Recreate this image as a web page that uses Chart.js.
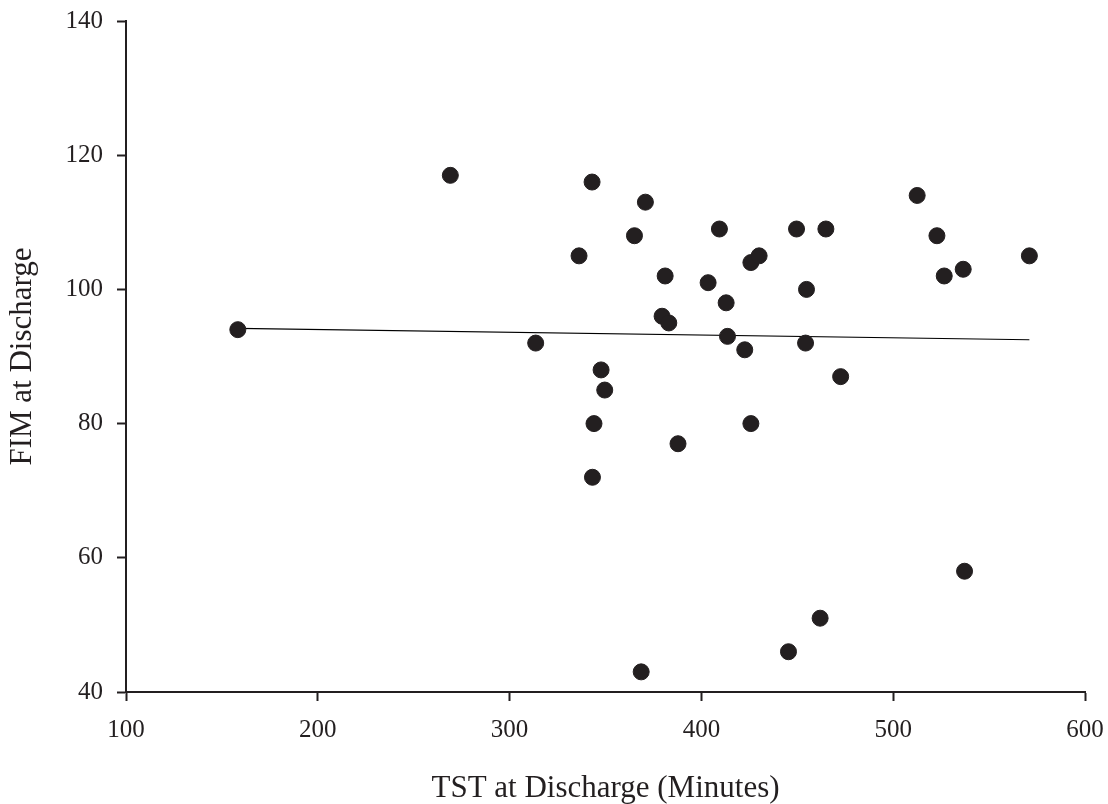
<!DOCTYPE html>
<html>
<head>
<meta charset="utf-8">
<title>FIM vs TST at Discharge</title>
<script src="https://cdn.jsdelivr.net/npm/chart.js@4/dist/chart.umd.min.js"></script>
<style>
  html, body { margin: 0; padding: 0; background: #fff; }
  #wrap { width: 1108px; height: 804px; }
</style>
</head>
<body>
<div id="wrap"><canvas id="scatter" width="1108" height="804"></canvas></div>
<script>
// TST at discharge (minutes) and FIM at discharge, one entry per patient
const tstMinutes = [158.3, 269.1, 313.6, 336.2, 343.0, 343.2, 344.0, 347.7, 349.6, 365.1,
  368.6, 370.8, 379.5, 381.1, 383.0, 387.8, 403.5, 409.4, 412.9, 413.6,
  422.6, 425.8, 425.8, 430.1, 445.4, 449.6, 454.3, 454.8, 461.9, 464.9,
  472.6, 512.5, 522.8, 526.6, 536.5, 537.2, 571.0];
const fimScores = [94, 117, 92, 105, 116, 72, 80, 88, 85, 108,
  43, 113, 96, 102, 95, 77, 101, 109, 98, 93,
  91, 104, 80, 105, 46, 109, 92, 100, 51, 109,
  87, 114, 108, 102, 103, 58, 105];

// fitted line, end points
const trendX = [158.3, 571.0];
const trendY = [94.2, 92.5];

const xTicks = [100, 200, 300, 400, 500, 600];
const yTicks = [40, 60, 80, 100, 120, 140];

const ink = "#231f20";
const serif = "'Liberation Serif', 'Times New Roman', serif";

const points = tstMinutes.map((x, i) => ({ x: x, y: fimScores[i] }));
const trend = trendX.map((x, i) => ({ x: x, y: trendY[i] }));

function axis(ticks, titleText, fitFn, titlePad) {
  return {
    type: "linear",
    min: ticks[0],
    max: ticks[ticks.length - 1],
    afterBuildTicks: s => { s.ticks = ticks.map(v => ({ value: v })); },
    afterFit: fitFn,
    border: { display: true, color: ink, width: 2 },
    grid: { drawOnChartArea: false, drawTicks: true, tickLength: 9, tickWidth: 2, tickColor: ink },
    ticks: { color: ink, padding: 14, font: { family: serif, size: 25 } },
    title: {
      display: true,
      text: titleText,
      color: ink,
      padding: titlePad,
      font: { family: serif, size: 31, lineHeight: 1.0 }
    }
  };
}

new Chart(document.getElementById("scatter").getContext("2d"), {
  type: "scatter",
  data: {
    datasets: [
      {
        label: "Patients",
        data: points,
        pointRadius: 8,
        pointBorderWidth: 1,
        pointBackgroundColor: ink,
        pointBorderColor: ink
      },
      {
        type: "line",
        label: "Fit",
        data: trend,
        borderColor: "#000",
        borderWidth: 1.2,
        pointRadius: 0,
        fill: false
      }
    ]
  },
  options: {
    responsive: false,
    animation: false,
    layout: { padding: { top: 21, right: 23, left: 0, bottom: 0 } },
    plugins: {
      legend: { display: false },
      tooltip: { enabled: false }
    },
    scales: {
      x: axis(xTicks, "TST at Discharge (Minutes)", s => {
        s.height = 112; s.paddingLeft = 0; s.paddingRight = 0;
      }, { top: 0, bottom: 0 }),
      y: axis(yTicks, "FIM at Discharge", s => {
        s.width = 126; s.paddingTop = 0; s.paddingBottom = 0;
      }, { top: 7, bottom: 0 })
    }
  }
});
</script>
</body>
</html>
